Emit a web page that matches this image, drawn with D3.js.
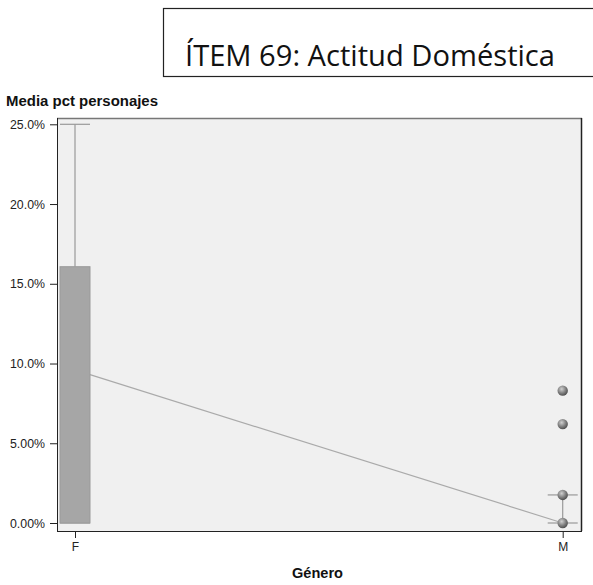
<!DOCTYPE html>
<html><head><meta charset="utf-8">
<script src="https://cdn.jsdelivr.net/npm/d3@7"></script>
<style>body{margin:0;background:#fff}svg{display:block}</style>
</head><body>
<script>
const categories = ["F", "M"];
const yTicks = [0, 5, 10, 15, 20, 25];
const yTickLabels = ["0.00%", "5.00%", "10.0%", "15.0%", "20.0%", "25.0%"];
// box stats: min, q1, median, q3, max (percent)
const boxMin = [0, 0];
const boxQ1 = [0, 0];
const boxMedian = [9.3, 0];
const boxQ3 = [16.07, 0];
const boxMax = [25, 1.76];
// outlier / individual points for M
const pointCat = ["M", "M", "M", "M"];
const pointVal = [8.3, 6.2, 1.76, 0];

(function () {
const W = 593, H = 585;
const svg = d3.select("body").append("svg").attr("width", W).attr("height", H);
const defs = svg.append("defs");
const grad = defs.append("radialGradient").attr("id", "ball").attr("cx", "40%").attr("cy", "35%").attr("r", "65%");
grad.append("stop").attr("offset", "0%").attr("stop-color", "#d0d0d0");
grad.append("stop").attr("offset", "60%").attr("stop-color", "#808080");
grad.append("stop").attr("offset", "100%").attr("stop-color", "#505050");

// Title box
svg.append("rect").attr("x", 163.5).attr("y", 8.5).attr("width", 440).attr("height", 68)
  .attr("fill", "#fff").attr("stroke", "#222").attr("stroke-width", 1.2);
svg.append("text").attr("x", 185).attr("y", 66).attr("font-family", "Open Sans")
  .attr("font-size", 30).attr("fill", "#111").attr("textLength", 370).attr("lengthAdjust", "spacingAndGlyphs")
  .text("ÍTEM 69: Actitud Doméstica");

const pL = 57, pR = 582, pT = 118, pB = 531;
const y = d3.scaleLinear().domain([0, 25]).range([523, 124.3]);
const x = d3.scalePoint().domain(categories).range([75, 562.7]);

svg.append("rect").attr("x", pL).attr("y", pT).attr("width", pR - pL).attr("height", pB - pT)
  .attr("fill", "#f0f0f0").attr("stroke", "none");
svg.append("line").attr("x1", pL).attr("x2", pR).attr("y1", pT + 0.5).attr("y2", pT + 0.5).attr("stroke", "#777").attr("stroke-width", 1.5);
svg.append("line").attr("x1", pR - 0.5).attr("x2", pR - 0.5).attr("y1", pT).attr("y2", pB).attr("stroke", "#222").attr("stroke-width", 1.5);

// y axis
const yAxis = d3.axisLeft(y).tickValues(yTicks).tickFormat((d, i) => yTickLabels[i]).tickSize(7).tickSizeOuter(0);
const gy = svg.append("g").attr("transform", `translate(${pL},0)`).call(yAxis);
gy.select(".domain").remove();
svg.append("line").attr("x1", pL + 0.5).attr("x2", pL + 0.5).attr("y1", pT).attr("y2", pB).attr("stroke", "#222");
gy.selectAll(".tick line").attr("stroke", "#222");
gy.selectAll(".tick text").attr("font-family", "Liberation Sans, Arial").attr("font-size", 12.5).attr("fill", "#222")
  .attr("x", -12).attr("textLength", 35).attr("lengthAdjust", "spacingAndGlyphs");

// x axis
const xAxis = d3.axisBottom(x).tickSize(7).tickSizeOuter(0);
const gx = svg.append("g").attr("transform", `translate(0,${pB})`).call(xAxis);
gx.select(".domain").remove();
svg.append("line").attr("x1", pL).attr("x2", pR).attr("y1", pB + 0.5).attr("y2", pB + 0.5).attr("stroke", "#222");
gx.selectAll(".tick line").attr("stroke", "#222");
gx.selectAll(".tick text").attr("font-family", "Liberation Sans, Arial").attr("font-size", 12).attr("fill", "#222").attr("dy", "0.85em");

// axis titles
svg.append("text").attr("x", 6).attr("y", 106).attr("font-family", "Liberation Sans, Arial").attr("font-weight", "bold")
  .attr("font-size", 14).attr("fill", "#111").attr("textLength", 152).attr("lengthAdjust", "spacingAndGlyphs")
  .text("Media pct personajes");
svg.append("text").attr("x", 292).attr("y", 578).attr("font-family", "Liberation Sans, Arial")
  .attr("font-weight", "bold").attr("font-size", 14).attr("fill", "#111").attr("textLength", 51).attr("lengthAdjust", "spacingAndGlyphs")
  .text("Género");

// median connecting line
const bw = 30;
svg.append("line").attr("x1", x("F") + bw / 2).attr("y1", y(boxMedian[0]))
  .attr("x2", x("M")).attr("y2", y(boxMedian[1])).attr("stroke", "#aaa").attr("stroke-width", 1.2);

categories.forEach((c, i) => {
  const cx = x(c);
  const g = svg.append("g");
  g.append("line").attr("x1", cx).attr("x2", cx).attr("y1", y(boxMax[i])).attr("y2", y(boxQ3[i])).attr("stroke", "#999").attr("stroke-width", 1.2);
  g.append("line").attr("x1", cx).attr("x2", cx).attr("y1", y(boxMin[i])).attr("y2", y(boxQ1[i])).attr("stroke", "#999").attr("stroke-width", 1.2);
  g.append("line").attr("x1", cx - bw / 2).attr("x2", cx + bw / 2).attr("y1", y(boxMax[i])).attr("y2", y(boxMax[i])).attr("stroke", "#999").attr("stroke-width", 1.2);
  g.append("line").attr("x1", cx - bw / 2).attr("x2", cx + bw / 2).attr("y1", y(boxMin[i])).attr("y2", y(boxMin[i])).attr("stroke", "#999").attr("stroke-width", 1.2);
  if (boxQ3[i] > boxQ1[i]) {
    g.append("rect").attr("x", cx - bw / 2).attr("y", y(boxQ3[i])).attr("width", bw).attr("height", y(boxQ1[i]) - y(boxQ3[i]))
      .attr("fill", "#a6a6a6").attr("stroke", "#9a9a9a");
  }
});

svg.selectAll("circle.pt").data(pointVal).enter().append("circle").attr("class", "pt")
  .attr("cx", (d, i) => x(pointCat[i])).attr("cy", d => y(d)).attr("r", 5.2).attr("fill", "url(#ball)");
})();
</script>
</body></html>
